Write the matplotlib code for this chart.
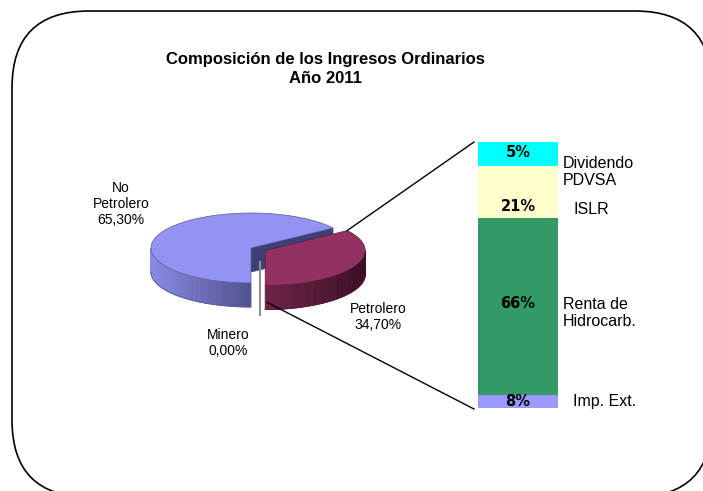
import numpy as np
import matplotlib.pyplot as plt
from matplotlib.patches import Polygon, FancyBboxPatch
from matplotlib.colors import to_rgb

titulo = 'Composición de los Ingresos Ordinarios\nAño 2011'

pie_nombres = ['No\nPetrolero', 'Petrolero', 'Minero']
pie_valores = [65.30, 34.70, 0.00]
pie_etiquetas = ['65,30%', '34,70%', '0,00%']

barra_nombres = ['Imp. Ext.', 'Renta de\nHidrocarb.', 'ISLR', 'Dividendo\nPDVSA']
barra_valores = [5.0, 66.5, 19.5, 9.0]   # alturas tal como se ven
barra_etiquetas = ['8%', '66%', '21%', '5%']

W, H = 703, 491
fig = plt.figure(figsize=(W / 100, H / 100), dpi=100)
ax = fig.add_axes([0, 0, 1, 1])
ax.set_xlim(0, W)
ax.set_ylim(H, 0)
ax.axis('off')

# marco redondeado
ax.add_patch(FancyBboxPatch((12, 11), 700, 486, boxstyle='round,pad=0,rounding_size=77',
                            fc='white', ec='black', lw=1.2))

ax.text(325, 69, titulo, ha='center', va='center', fontsize=12, fontweight='bold',
        family='Liberation Sans', linespacing=1.35)

# torta 3d
cx, cy, a, b, d = 251, 248, 100, 35, 24
inicio = 180
explotar = [0, 0.16, 0]
caras = ['#9393f3', '#933163', '#dddddd']
lado_izq = ['#8a8ae4', '#6e2347', '#aaaaaa']
lado_der = ['#50508f', '#3a0f24', '#888888']
corte = ['#3f3f78', '#4a1530', '#777777']
filo = ['#5a5a9a', '#5a1a3a', '#777777']


def punto(t, ox, oy):
    r = np.radians(t)
    return cx + ox + a * np.sin(r), cy + oy - b * np.cos(r)


def mezcla(c1, c2, f):
    c1, c2 = np.array(to_rgb(c1)), np.array(to_rgb(c2))
    return tuple(c1 + (c2 - c1) * f)


tot = sum(pie_valores)
t0 = inicio
bordes = []
for i, v in enumerate(pie_valores):
    t1 = t0 + 360 * v / tot
    mid = np.radians((t0 + t1) / 2)
    ox, oy = explotar[i] * a * np.sin(mid), -explotar[i] * b * np.cos(mid)
    bordes.append((t0, t1, ox, oy))
    if v <= 0:
        t0 = t1
        continue
    vx, vy = cx + ox, cy + oy
    # paredes radiales
    for t, s in ((t0, -1), (t1, 1)):
        if s * np.sin(np.radians(t)) > 1e-6:
            px, py = punto(t, ox, oy)
            ax.add_patch(Polygon([(vx, vy), (px, py), (px, py + d), (vx, vy + d)],
                                 fc=corte[i], ec=corte[i], lw=0.5))
    # pared exterior
    for k in (0, 360):
        lo, hi = max(t0, 90 + k), min(t1, 270 + k)
        if hi <= lo:
            continue
        ts = np.linspace(lo, hi, 80)
        xs = [punto(t, ox, oy)[0] for t in ts]
        xmin, xmax = min(xs), max(xs)
        for j in range(len(ts) - 1):
            p1 = punto(ts[j], ox, oy)
            p2 = punto(ts[j + 1], ox, oy)
            f = ((p1[0] + p2[0]) / 2 - xmin) / (xmax - xmin)
            c = mezcla(lado_izq[i], lado_der[i], f)
            ax.add_patch(Polygon([p1, p2, (p2[0], p2[1] + d), (p1[0], p1[1] + d)],
                                 fc=c, ec=c, lw=0.6))
        bajo = [punto(t, ox, oy) for t in ts]
        ax.plot([p[0] for p in bajo], [p[1] + d for p in bajo], color=filo[i], lw=0.6)
    # cara superior
    ts = np.linspace(t0, t1, 120)
    pts = [(vx, vy)] + [punto(t, ox, oy) for t in ts]
    ax.add_patch(Polygon(pts, fc=caras[i], ec=filo[i], lw=0.5))
    t0 = t1

# linea gris de Minero
ax.plot([cx + 9, cx + 9], [cy + 14, cy + 67], color='#8c8c8c', lw=1.5)

ax.text(121, 204, pie_nombres[0] + '\n' + pie_etiquetas[0], ha='center', va='center',
        fontsize=10, family='Liberation Sans', linespacing=1.15)
ax.text(378, 317, pie_nombres[1] + '\n' + pie_etiquetas[1], ha='center', va='center',
        fontsize=10, family='Liberation Sans', linespacing=1.15)
ax.text(228, 343, pie_nombres[2] + '\n' + pie_etiquetas[2], ha='center', va='center',
        fontsize=10, family='Liberation Sans', linespacing=1.15)

# barra
bx0, bx1, by0, by1 = 478, 558, 142, 408
p0, p1_, pox, poy = bordes[1]
ux, uy = punto(p0, pox, poy)
lx, ly = punto(p1_, pox, poy)
ax.plot([ux, bx0 - 4], [uy, by0], color='black', lw=1)
ax.plot([lx + 2, bx0 - 4], [ly + 0.7 * d, by1 + 1], color='black', lw=1)

axb = fig.add_axes([bx0 / W, 1 - by1 / H, (bx1 - bx0) / W, (by1 - by0) / H])
colores_barra = ['#9999ff', '#339966', '#ffffcc', '#00ffff']
fondo = np.concatenate([[0], np.cumsum(barra_valores)[:-1]])
axb.bar([0] * len(barra_valores), barra_valores, bottom=fondo, width=1, color=colores_barra)
axb.set_xlim(-0.5, 0.5)
axb.set_ylim(0, sum(barra_valores))
axb.axis('off')

dy_etq = [-0.2, 1.2, -5.6, 0.4]
dy_nom = [-0.2, -2.5, -6.5, -6.8]
dx_nom = [15, 5, 15, 5]
for i, v in enumerate(barra_valores):
    yc = fondo[i] + v / 2
    axb.text(0, yc + dy_etq[i], barra_etiquetas[i], ha='center', va='center',
             fontsize=10.5, fontweight='bold', family='DejaVu Sans', clip_on=False)
    axb.text(0.5 + dx_nom[i] / (bx1 - bx0), yc + dy_nom[i], barra_nombres[i], ha='left',
             va='center', fontsize=11.5, family='Liberation Sans', linespacing=1.1,
             clip_on=False)

fig.savefig('out.png', dpi=100)
